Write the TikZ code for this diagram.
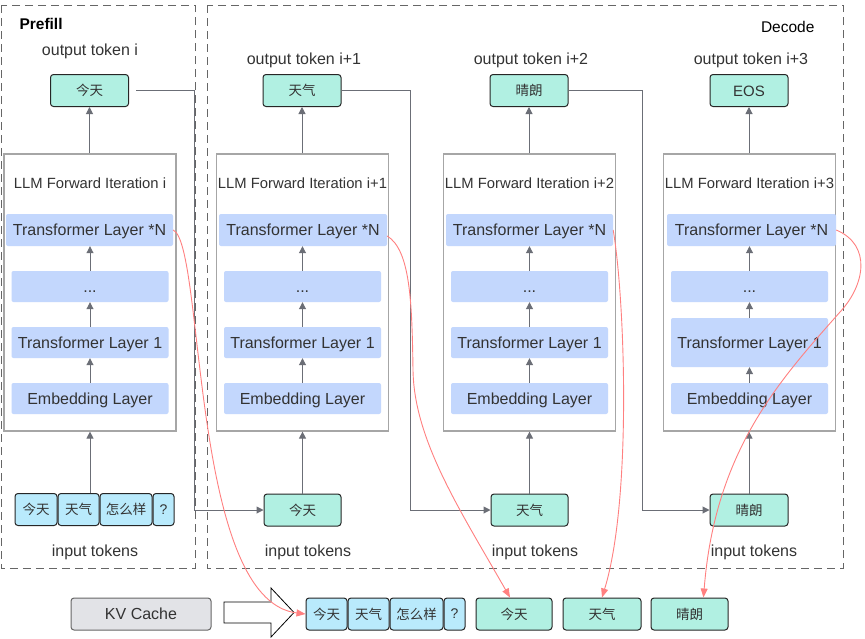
\documentclass[tikz,border=0pt]{standalone}
\usepackage{fontspec}
\setmainfont{Liberation Sans}
\newfontfamily\cjk{Noto Sans CJK SC}
\usetikzlibrary{arrows.meta}
\definecolor{tealf}{HTML}{B1F0E2}
\definecolor{tokf}{HTML}{B9EAFC}
\definecolor{layf}{HTML}{C3D7FD}
\definecolor{arrg}{HTML}{6B6E76}
\definecolor{redc}{HTML}{FF8080}
\definecolor{kvf}{HTML}{E2E3E7}
\definecolor{txt}{HTML}{333333}
\begin{document}
\begin{tikzpicture}[x=1pt,y=-1pt,
  grp/.style={draw=black!60, dash pattern=on 8pt off 5pt, line width=1pt},
  iterbox/.style={draw=black!35, line width=1.2pt, fill=white, minimum width=172pt, minimum height=277pt, inner sep=0pt},
  layer/.style={fill=layf, rounded corners=2pt, minimum width=157pt, minimum height=31pt, inner sep=0pt, font=\fontsize{16}{18}\selectfont, text=txt, text height=11.5pt, text depth=0pt},
  layerN/.style={layer, minimum width=167pt, minimum height=32pt},
  tokout/.style={fill=tealf, draw=black!85, line width=1pt, rounded corners=3pt, minimum width=78pt, minimum height=32pt, inner sep=0pt, font=\cjk\fontsize{13.5}{15}\selectfont, text=txt},
  tokin/.style={fill=tokf, draw=black!85, line width=1pt, rounded corners=3pt, minimum height=32pt, inner sep=0pt, font=\cjk\fontsize{13.5}{15}\selectfont, text=txt},
  lab/.style={font=\fontsize{16}{18}\selectfont, text=txt},
  ttl/.style={font=\fontsize{14.8}{16}\selectfont, text=txt},
  flow/.style={draw=arrg, line width=1pt, -{Triangle[length=7pt,width=7pt]}},
  cache/.style={draw=redc, line width=0.9pt, -{Triangle[length=9pt,width=7pt]}},
  kv/.style={fill=kvf, draw=black!60, line width=1pt, rounded corners=3pt, minimum width=140pt, minimum height=32pt, inner sep=0pt, font=\fontsize{16}{18}\selectfont, text=txt, text height=11.5pt, text depth=0pt}
]
\useasboundingbox (0,0) rectangle (865,638);
\fill[white] (0,0) rectangle (865,638);

% group frames
\draw[grp] (1,5) rectangle (195,568);
\draw[grp] (207,5) rectangle (843,568);
\node[anchor=west, font=\bfseries\fontsize{15.5}{17}\selectfont] (pf) at (16,24) {Prefill};
\node[anchor=east, font=\fontsize{15.5}{17}\selectfont, text=black] (dc) at (818,26.5) {Decode};

% columns
\foreach \c/\x/\nx/\nw/\h/\t/\lx in {1/90/89.5/167/31/i/95, 2/302.5/303/168/31/i+1/308, 3/529.5/529.5/167/31/i+2/535, 4/749.5/751.5/169/49/i+3/754}{
  \node[iterbox] (it\c) at (\x,292.5) {};
  \node[ttl] (ti\c) at (\x,183) {LLM Forward Iteration \t};
  \node[layerN, minimum width=\nw pt] (tn\c) at (\nx,230) {Transformer Layer *N};
  \node[layer] (dt\c) at (\x,286.5) {...};
  \node[layer, minimum height=\h pt] (t1\c) at (\x,342.5) {Transformer Layer 1};
  \node[layer] (em\c) at (\x,398.5) {Embedding Layer};
  \draw[flow] (em\c.north -| \x,0) -- (t1\c.south -| \x,0);
  \draw[flow] (t1\c.north -| \x,0) -- (dt\c.south -| \x,0);
  \draw[flow] (dt\c.north -| \x,0) -- (tn\c.south -| \x,0);
  \node[lab] (il\c) at (\lx,552) {input tokens};
}

% output tokens
\node[tokout] (out1) at (89.5,90.5) {今天};
\node[tokout] (out2) at (302,90.5) {天气};
\node[tokout] (out3) at (529,90.5) {晴朗};
\node[tokout, font=\fontsize{15}{17}\selectfont, text height=11pt, text depth=0pt] (out4) at (749,90.5) {EOS};
\node[lab] (ol1) at (90,51) {output token i};
\node[lab] (ol2) at (304,60) {output token i+1};
\node[lab] (ol3) at (531,60) {output token i+2};
\node[lab] (ol4) at (751,60) {output token i+3};
\foreach \c in {1,2,3,4}{
  \draw[flow] (it\c.north -| out\c.south) -- (out\c.south);
}

% input tokens
\node[tokin, minimum width=42pt] (a1) at (36,509.5) {今天};
\node[tokin, minimum width=41pt] (a2) at (78.5,509.5) {天气};
\node[tokin, minimum width=52pt] (a3) at (126,509.5) {怎么样};
\node[tokin, minimum width=21pt, font=\fontsize{14}{16}\selectfont] (a4) at (163.5,509.5) {?};
\node[tokout, minimum width=77pt] (in2) at (302.5,510) {今天};
\node[tokout, minimum width=77pt] (in3) at (529.5,510) {天气};
\node[tokout, minimum width=78pt] (in4) at (749,510) {晴朗};
\draw[flow] (a2.north -| it1.south) -- (it1.south);
\draw[flow] (in2.north) -- (it2.south -| in2.north);
\draw[flow] (in3.north) -- (it3.south -| in3.north);
\draw[flow] (in4.north) -- (it4.south -| in4.north);

% feedback connectors
\draw[flow] ([xshift=7pt]out1.east) -- ++(58,0) |- (in2.west);
\draw[flow] (out2.east) -- ++(69,0) |- (in3.west);
\draw[flow] (out3.east) -- ++(74,0) |- (in4.west);

% KV cache row
\node[kv] (kv) at (141,614) {KV Cache};
\draw[line width=0.8pt, fill=white] (224,602) -- (271,602) -- (271,588) -- (294,612.5) -- (271,637) -- (271,623) -- (224,623) -- cycle;
\node[tokin, minimum width=41pt] (k1) at (326.5,614) {今天};
\node[tokin, minimum width=41pt] (k2) at (368.5,614) {天气};
\node[tokin, minimum width=53pt] (k3) at (416.5,614) {怎么样};
\node[tokin, minimum width=21pt, font=\fontsize{14}{16}\selectfont] (k4) at (454.5,614) {?};
\node[tokout, minimum width=76pt] (q1) at (514,614) {今天};
\node[tokout, minimum width=78pt] (q2) at (602,614) {天气};
\node[tokout, minimum width=77pt] (q3) at (689.5,614) {晴朗};

% KV cache curves
\draw[cache] (tn1.east) .. controls (205,245) and (190,600) .. (k1.west);
\draw[cache] ([yshift=-6pt]tn2.east) .. controls (410,250) and (412,300) .. (413,370) .. controls (414,440) and (460,510) .. ([xshift=-4pt]q1.north);
\draw[cache] (tn3.east) .. controls (625,300) and (632,500) .. (q2.north);
\draw[cache] (tn4.east) .. controls (872,245) and (865,285) .. (840,312) .. controls (780,380) and (715,450) .. ([xshift=14pt]q3.north);
\end{tikzpicture}
\end{document}
